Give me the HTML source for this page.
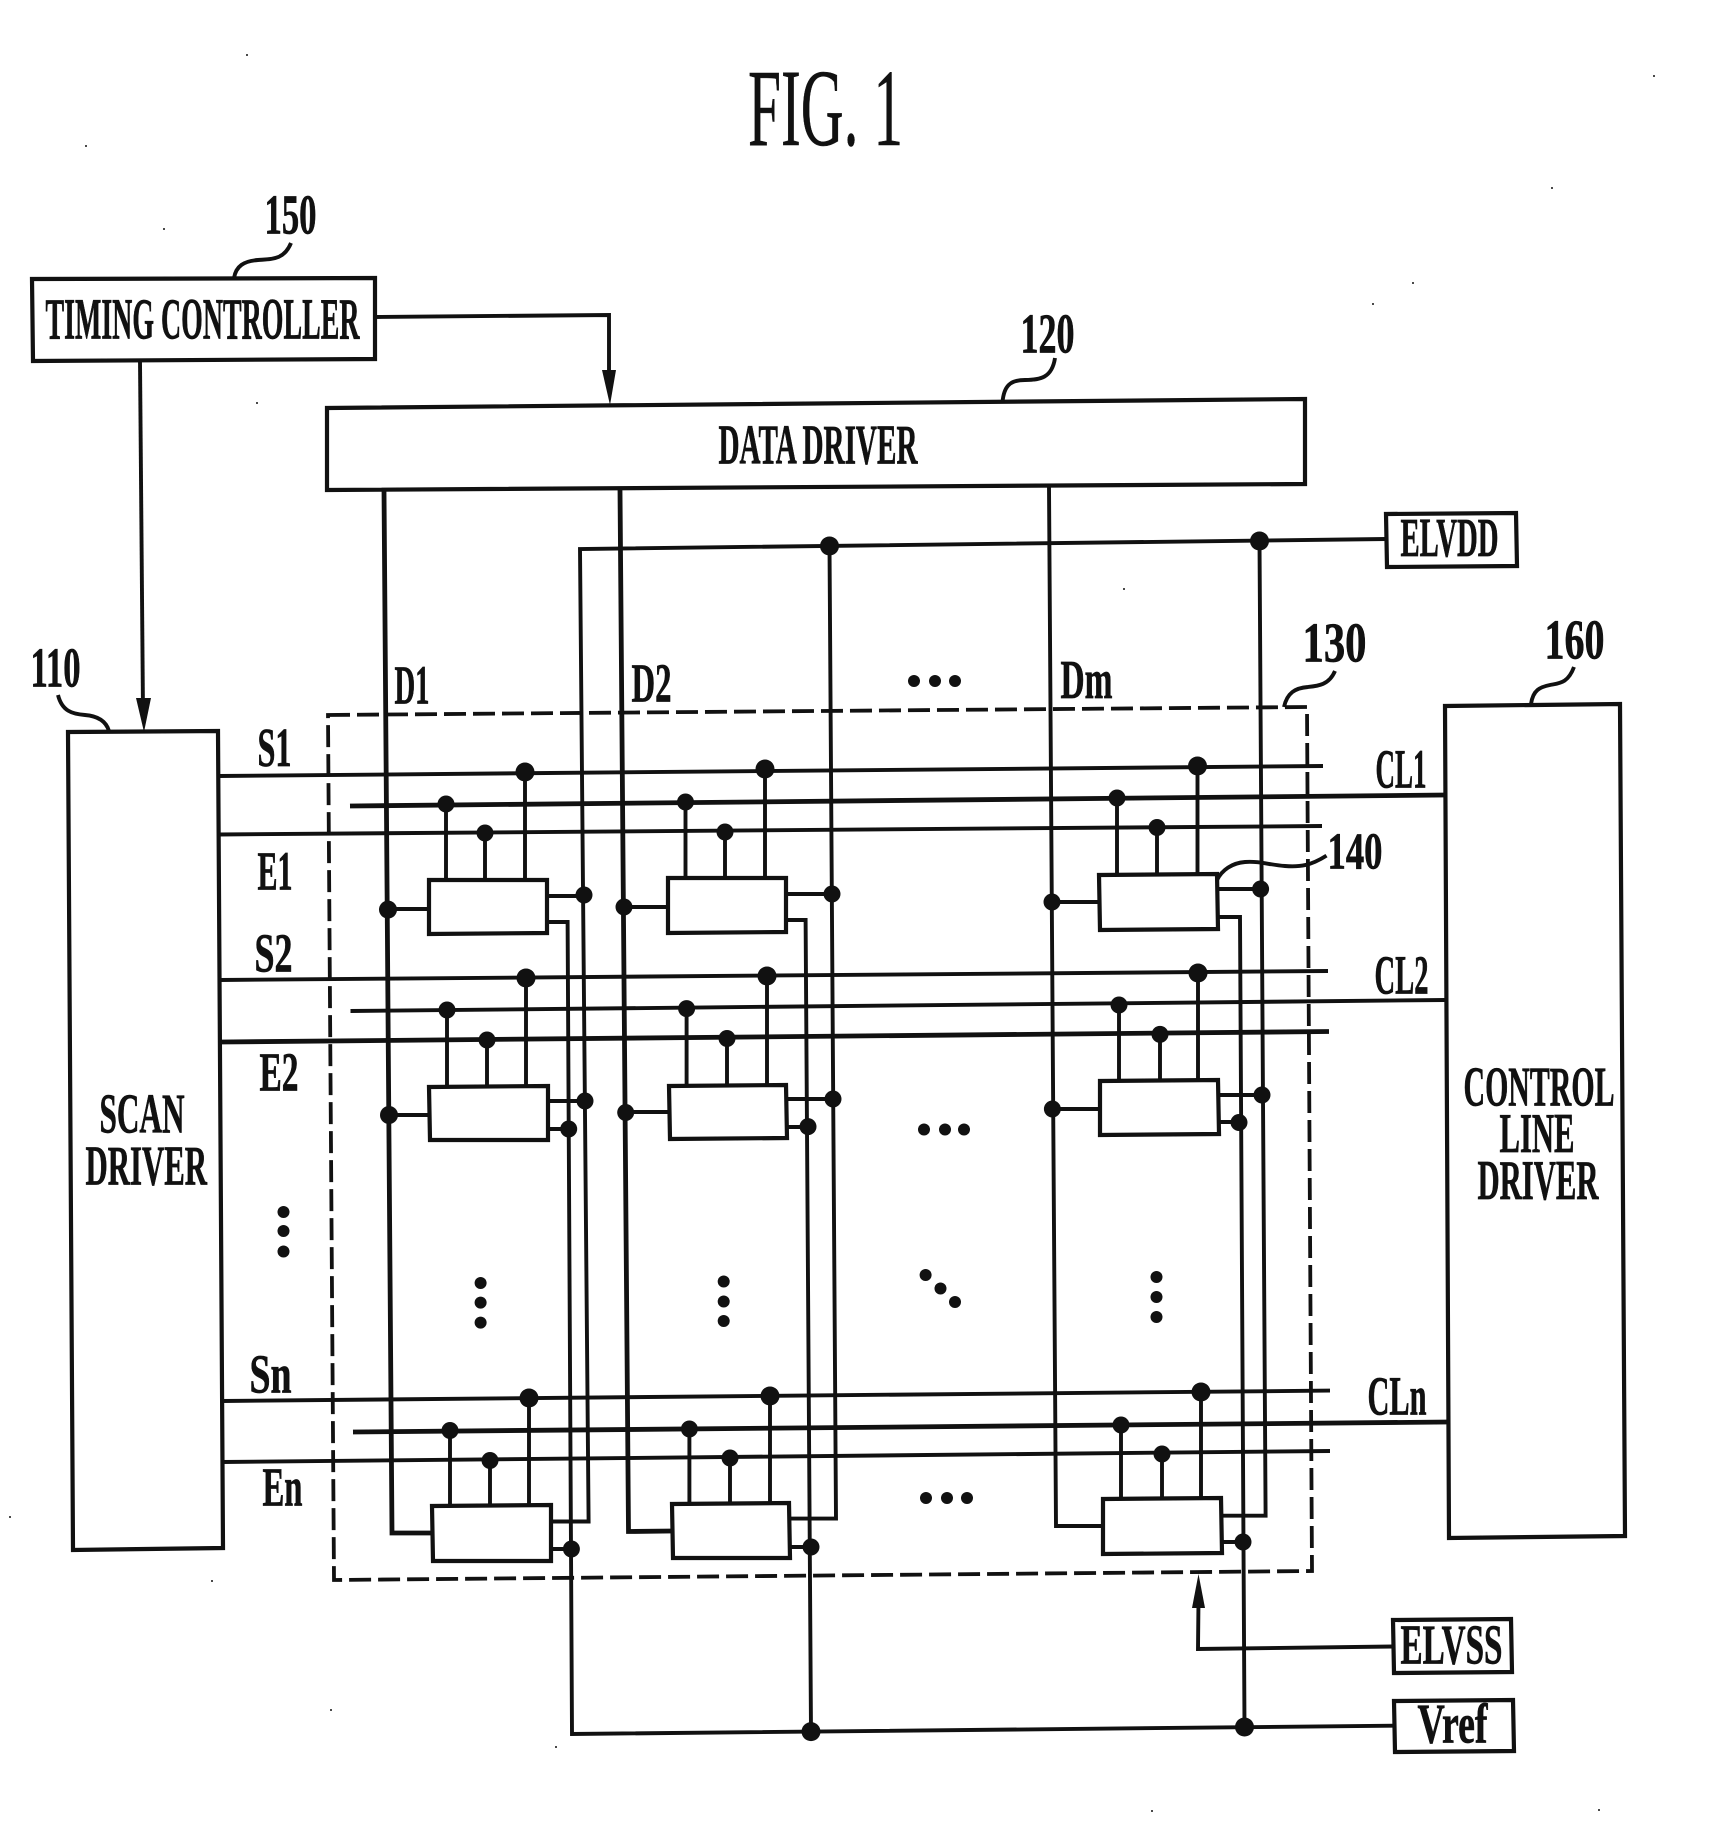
<!DOCTYPE html>
<html><head><meta charset="utf-8"><style>
html,body{margin:0;padding:0;background:#fff}
svg{display:block}
.l{fill:none;stroke:#111;stroke-width:3.9;stroke-linejoin:miter}
.t{stroke-width:4.8}
.b{fill:#fff;stroke:#111;stroke-width:4.2}
text{font-family:"Liberation Serif",serif;font-weight:bold;fill:#111;stroke:#111;stroke-width:.7}
</style></head><body>
<svg width="1736" height="1843" viewBox="0 0 1736 1843" xmlns="http://www.w3.org/2000/svg">
<rect width="1736" height="1843" fill="#fff"/>

<!-- blocks -->
<polygon class="b" points="32,279 375,278 375,359 33,361"/>
<polygon class="b" points="327,408 1305,399 1305,484 327,490"/>
<polygon class="b" points="68,732 218,731 223,1548 73,1550"/>
<polygon class="b" points="1445,706 1620,704 1625,1536 1449,1538"/>
<polygon class="b" points="1386,514 1516,513 1517,566 1387,567"/>
<polygon class="b" points="1393,1620 1511,1619 1512,1672 1394,1673"/>
<polygon class="b" points="1394,1701 1513,1700 1514,1751 1395,1752"/>

<!-- dashed panel -->
<polygon points="328,715 1307,707 1312,1571 334,1580" fill="none" stroke="#111" stroke-width="3.8" stroke-dasharray="22,7"/>

<!-- controller links -->
<polyline class="l" points="140,361 143,712"/>
<polygon points="136,698 151,698 144,732" fill="#111"/>
<polyline class="l" points="375,317 609,315 609,385"/>
<polygon points="602,370 616,370 610,405" fill="#111"/>

<!-- data lines -->
<polyline class="l t" points="384,490 392,1533 432,1533"/>
<polyline class="l t" points="620,490 628.5,1531.5 672,1531"/>
<polyline class="l" points="1049,487 1056,1526 1103,1526"/>

<!-- ELVDD -->
<polyline class="l" points="1386,539 580,549 588.6,1521.5 551,1521.5"/>
<polyline class="l" points="829.5,546 836,1518.6 789,1518.6"/>
<polyline class="l" points="1259.5,541 1265.6,1515.7 1220,1515.7"/>

<!-- Vref -->
<polyline class="l" points="548,922 567.6,922 572,1734 1394,1725.7"/>
<polyline class="l" points="786,920 805.6,920 811,1731.6"/>
<polyline class="l" points="1217,917 1240,917 1244.5,1727"/>

<!-- ELVSS -->
<polyline class="l" points="1393,1646.5 1198,1649 1198.5,1600"/>
<polygon points="1198.5,1574 1192,1608 1205,1608" fill="#111"/>

<!-- rows -->
<polyline class="l" points="219,776 1323,766"/>
<polyline class="l t" points="350,806 1445,795"/>
<polyline class="l" points="219,834.5 1322,826"/>
<polyline class="l" points="220,980 1328,971"/>
<polyline class="l" points="350.5,1011 1445,1000"/>
<polyline class="l t" points="221.5,1042 1329,1031.5"/>
<polyline class="l" points="222.6,1401 1330,1390.6"/>
<polyline class="l t" points="353,1432 1448,1422"/>
<polyline class="l" points="222.6,1462 1330,1451"/>

<!-- cell stems -->
<path class="l" d="M446,804V880M485,833V880M525,772V880M685.5,802V878M725,832V878M765,769V878M1117,798V874M1157,827.5V874M1197.5,766V874"/>
<path class="l" d="M447,1010V1087M487,1040V1087M526,978V1087M686.6,1008V1085M727,1038V1085M767,976V1085M1119,1005V1080M1160,1034V1080M1198,973V1080"/>
<path class="l" d="M450,1430V1506M490,1460V1506M529,1398V1506M689.4,1429V1504M730,1458V1504M770,1396V1504M1121,1425V1499M1162,1454V1499M1201,1392V1499"/>

<!-- side connectors -->
<path class="l" d="M388,909H429M624,907H668M1052,902H1099M389,1115H429M626,1112H669M1052,1109H1100M547,896H584M786,894H832M1217,889H1261M548,1101H585M786,1099H833M1218,1095H1262M548,1129H569M786,1127H808M1218,1122H1239M551,1549H571M789,1547H811M1221,1542H1243"/>

<!-- cells -->
<polygon class="b" points="429,880 547,880 547,933 429,934"/>
<polygon class="b" points="668,878 786,878 786,932 668,933"/>
<polygon class="b" points="1099,875 1217,874 1218,929 1100,930"/>
<polygon class="b" points="429,1087 548,1086 548,1140 430,1140"/>
<polygon class="b" points="669,1086 786,1085 787,1138 670,1139"/>
<polygon class="b" points="1100,1081 1218,1080 1219,1134 1100,1135"/>
<polygon class="b" points="432,1506 551,1505 551,1561 433,1561"/>
<polygon class="b" points="672,1504 789,1503 790,1558 673,1558"/>
<polygon class="b" points="1103,1499 1221,1498 1222,1553 1103,1554"/>

<!-- junctions -->
<g fill="#111">
<circle cx="829.5" cy="546" r="9.5"/><circle cx="1259.5" cy="541" r="9.5"/>
<circle cx="811" cy="1731.6" r="9.5"/><circle cx="1244.5" cy="1727" r="9.5"/>
<circle cx="525" cy="772" r="9.5"/><circle cx="446" cy="804" r="8.5"/><circle cx="485" cy="833" r="8.5"/>
<circle cx="765" cy="769" r="9.5"/><circle cx="685.5" cy="802" r="8.5"/><circle cx="725" cy="832" r="8.5"/>
<circle cx="1197.5" cy="766" r="9.5"/><circle cx="1117" cy="798" r="8.5"/><circle cx="1157" cy="827.5" r="8.5"/>
<circle cx="526" cy="978" r="9.5"/><circle cx="447" cy="1010" r="8.5"/><circle cx="487" cy="1040" r="8.5"/>
<circle cx="767" cy="976" r="9.5"/><circle cx="686.6" cy="1008.6" r="8.5"/><circle cx="727" cy="1038.5" r="8.5"/>
<circle cx="1198" cy="973" r="9.5"/><circle cx="1119" cy="1005" r="8.5"/><circle cx="1160" cy="1034.4" r="8.5"/>
<circle cx="529" cy="1398" r="9.5"/><circle cx="450" cy="1430.5" r="8.5"/><circle cx="490" cy="1460.5" r="8.5"/>
<circle cx="770" cy="1396" r="9.5"/><circle cx="689.4" cy="1429" r="8.5"/><circle cx="730" cy="1458" r="8.5"/>
<circle cx="1201" cy="1392" r="9.5"/><circle cx="1121" cy="1425" r="8.5"/><circle cx="1162" cy="1454" r="8.5"/>
<circle cx="388" cy="909.6" r="9"/><circle cx="624" cy="907" r="8.5"/><circle cx="1052" cy="902" r="8.5"/>
<circle cx="389" cy="1115" r="9"/><circle cx="625.7" cy="1112.5" r="8.5"/><circle cx="1052.4" cy="1109" r="8.5"/>
<circle cx="584" cy="895" r="8.5"/><circle cx="832" cy="894" r="8.5"/><circle cx="1260.6" cy="889" r="8.5"/>
<circle cx="585" cy="1101" r="8.5"/><circle cx="833" cy="1099" r="8.5"/><circle cx="1262" cy="1095" r="8.5"/>
<circle cx="568.7" cy="1129" r="8.5"/><circle cx="808" cy="1126.6" r="8.5"/><circle cx="1239" cy="1122.5" r="8.5"/>
<circle cx="571.4" cy="1549" r="8.5"/><circle cx="811" cy="1547" r="8.5"/><circle cx="1243" cy="1542" r="8.5"/>
<!-- ellipsis dots -->
<circle cx="914" cy="681" r="6"/><circle cx="935" cy="681" r="6"/><circle cx="955" cy="681" r="6"/>
<circle cx="924" cy="1129.5" r="6"/><circle cx="945" cy="1129.5" r="6"/><circle cx="964" cy="1129.5" r="6"/>
<circle cx="926" cy="1498" r="6"/><circle cx="947" cy="1498" r="6"/><circle cx="967" cy="1498" r="6"/>
<circle cx="283.5" cy="1212" r="6"/><circle cx="283.5" cy="1231" r="6"/><circle cx="283.5" cy="1251.5" r="6"/>
<circle cx="480.6" cy="1283" r="6"/><circle cx="480.6" cy="1302.6" r="6"/><circle cx="480.6" cy="1322.6" r="6"/>
<circle cx="723.7" cy="1281.5" r="6"/><circle cx="723.7" cy="1301.5" r="6"/><circle cx="723.7" cy="1321" r="6"/>
<circle cx="1156.5" cy="1277" r="6"/><circle cx="1156.5" cy="1297" r="6"/><circle cx="1156.5" cy="1317" r="6"/>
<circle cx="925.6" cy="1275" r="6"/><circle cx="940.5" cy="1288.5" r="6"/><circle cx="955" cy="1302" r="6"/>
<!-- scan specks -->
<circle cx="247" cy="55" r="1"/><circle cx="86" cy="146" r="1"/><circle cx="164" cy="229" r="1"/><circle cx="257" cy="403" r="1"/>
<circle cx="1654" cy="76" r="1"/><circle cx="1552" cy="188" r="1"/><circle cx="1413" cy="283" r="1"/><circle cx="1373" cy="304" r="1"/>
<circle cx="1124" cy="589" r="1"/><circle cx="10" cy="1517" r="1"/><circle cx="212" cy="1581" r="1"/><circle cx="331" cy="1710" r="1"/>
<circle cx="556" cy="1747" r="1"/><circle cx="1152" cy="1811" r="1"/><circle cx="1599" cy="1810" r="1"/>
</g>

<!-- leaders -->
<path class="l" d="M291,243C284,260 272,259 258,260C244,261 236,266 234,278"/>
<path class="l" d="M1055,358C1052,378 1040,380 1025,380C1010,380 1004,386 1002.5,402"/>
<path class="l" d="M58,695C62,711 72,714 85,715C98,716 106,721 109,731"/>
<path class="l" d="M1335,671C1329,685 1318,686 1308,687C1295,688 1287,693 1284,707"/>
<path class="l" d="M1574,667C1568,683 1560,683 1550,685C1540,687 1533,690 1531,704"/>
<path class="l" d="M1326.5,855.6C1310,866 1300,867 1285,866C1270,865 1260,861 1245,862C1232,863 1222,870 1217,880"/>

<!-- text -->
<text x="748" y="145" font-size="110" textLength="155" lengthAdjust="spacingAndGlyphs" style="font-weight:normal;stroke-width:.5">FIG. 1</text>
<g transform="translate(-1.5,-1.5)">
<text x="47" y="340" font-size="58" textLength="314" lengthAdjust="spacingAndGlyphs">TIMING CONTROLLER</text>
<text x="720" y="465" font-size="56" textLength="199" lengthAdjust="spacingAndGlyphs">DATA DRIVER</text>
<text x="266" y="235" font-size="56" textLength="52" lengthAdjust="spacingAndGlyphs">150</text>
<text x="1022" y="354" font-size="56" textLength="54" lengthAdjust="spacingAndGlyphs">120</text>
<text x="32" y="688" font-size="56" textLength="50" lengthAdjust="spacingAndGlyphs">110</text>
<text x="1304" y="663" font-size="56" textLength="64" lengthAdjust="spacingAndGlyphs">130</text>
<text x="1546" y="660" font-size="56" textLength="60" lengthAdjust="spacingAndGlyphs">160</text>
<text x="1329" y="870" font-size="52" textLength="55" lengthAdjust="spacingAndGlyphs">140</text>
<text x="396" y="705" font-size="55" textLength="35" lengthAdjust="spacingAndGlyphs">D1</text>
<text x="633" y="703" font-size="55" textLength="40" lengthAdjust="spacingAndGlyphs">D2</text>
<text x="1062" y="699.5" font-size="55" textLength="52" lengthAdjust="spacingAndGlyphs">Dm</text>
<text x="259" y="767.6" font-size="55" textLength="34" lengthAdjust="spacingAndGlyphs">S1</text>
<text x="259" y="891" font-size="55" textLength="35" lengthAdjust="spacingAndGlyphs">E1</text>
<text x="256" y="973" font-size="55" textLength="38" lengthAdjust="spacingAndGlyphs">S2</text>
<text x="261" y="1092" font-size="55" textLength="39" lengthAdjust="spacingAndGlyphs">E2</text>
<text x="251" y="1394" font-size="55" textLength="42" lengthAdjust="spacingAndGlyphs">Sn</text>
<text x="264" y="1507" font-size="55" textLength="40" lengthAdjust="spacingAndGlyphs">En</text>
<text x="1377" y="789" font-size="55" textLength="51" lengthAdjust="spacingAndGlyphs">CL1</text>
<text x="1376" y="995" font-size="55" textLength="54" lengthAdjust="spacingAndGlyphs">CL2</text>
<text x="1369" y="1416" font-size="55" textLength="59" lengthAdjust="spacingAndGlyphs">CLn</text>
<text x="1402" y="557.5" font-size="55" textLength="98" lengthAdjust="spacingAndGlyphs">ELVDD</text>
<text x="1402" y="1665" font-size="56" textLength="102" lengthAdjust="spacingAndGlyphs">ELVSS</text>
<text x="1419" y="1744" font-size="56" textLength="70" lengthAdjust="spacingAndGlyphs">Vref</text>
<text x="101" y="1134" font-size="56" textLength="85" lengthAdjust="spacingAndGlyphs">SCAN</text>
<text x="87" y="1186" font-size="56" textLength="121.5" lengthAdjust="spacingAndGlyphs">DRIVER</text>
<text x="1465" y="1107" font-size="56" textLength="151" lengthAdjust="spacingAndGlyphs">CONTROL</text>
<text x="1501" y="1153.5" font-size="56" textLength="75" lengthAdjust="spacingAndGlyphs">LINE</text>
<text x="1479" y="1200.5" font-size="56" textLength="121" lengthAdjust="spacingAndGlyphs">DRIVER</text>
</g>
</svg>
</body></html>
